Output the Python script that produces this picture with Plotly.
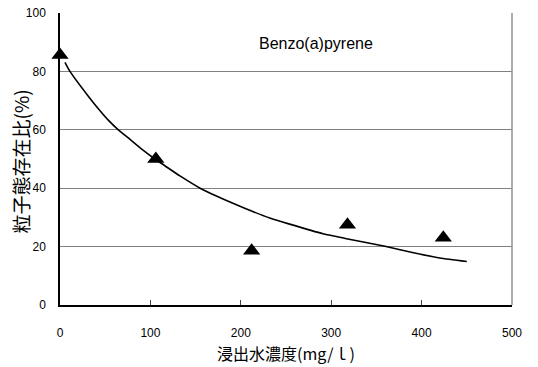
import plotly.graph_objects as go

# Measured data (triangles)
meas_x = [0, 106, 212, 318, 424]
meas_y = [85.6, 50.0, 18.6, 27.5, 23.0]

# Fitted curve
curve_x = [5.5, 11, 31.3, 42.4, 53.4, 64.5, 75.6, 90.4, 105, 116, 132.7, 155, 173, 203, 232, 254, 291, 317, 359.5, 391, 420, 450]
curve_y = [83.1, 80, 71.5, 67.2, 63.3, 60, 57.2, 53.4, 50, 47.7, 44.2, 40, 37.3, 33.3, 29.8, 27.7, 24.4, 22.7, 20.1, 17.9, 16.1, 14.9]

x_ticks = [0, 100, 200, 300, 400, 500]
y_ticks = [0, 20, 40, 60, 80, 100]

title_text = "Benzo(a)pyrene"
x_title = "浸出水濃度(mg/ｌ)"
y_title = "粒子態存在比(%)"

font_lat = "Liberation Sans, Arial, sans-serif"
font_cjk = "Noto Sans CJK JP, Liberation Sans, sans-serif"

fig = go.Figure()
fig.add_trace(go.Scatter(x=curve_x, y=curve_y, mode="lines",
                         line=dict(color="black", width=1.6, shape="spline", smoothing=0.6),
                         hoverinfo="skip"))
fig.add_trace(go.Scatter(x=meas_x, y=meas_y, mode="markers",
                         marker=dict(symbol="triangle-up", size=15, color="black"),
                         cliponaxis=False))

fig.update_layout(
    width=538, height=367,
    margin=dict(l=60, r=26, t=13, b=62),
    paper_bgcolor="white", plot_bgcolor="white",
    showlegend=False,
    xaxis=dict(range=[0, 500], tickvals=x_ticks, showgrid=False, zeroline=False,
               automargin=False,
               showline=True, linecolor="black", linewidth=1.5,
               ticks="inside", ticklen=5, tickcolor="#444", tickwidth=1,
               ticklabelstandoff=16,
               tickfont=dict(family=font_lat, size=12, color="black"),
               title=dict(text=x_title, font=dict(family=font_cjk, size=16, color="black"),
                          standoff=10)),
    yaxis=dict(range=[0, 100], tickvals=y_ticks, showgrid=True, gridcolor="#808080",
               gridwidth=1, zeroline=False, automargin=False,
               showline=True, linecolor="black", linewidth=1.5,
               ticks="", ticklabelstandoff=10,
               tickfont=dict(family=font_lat, size=12, color="black")),
    shapes=[dict(type="line", xref="paper", yref="paper", x0=1, x1=1, y0=0, y1=1,
                 line=dict(color="#909090", width=1.5))],
    annotations=[
        dict(text=title_text, x=283, y=89.5, xref="x", yref="y",
             showarrow=False, font=dict(family=font_lat, size=16, color="black")),
        dict(text=y_title, x=-0.087, y=0.49, xref="paper", yref="paper",
             textangle=-90, showarrow=False, xanchor="center", yanchor="middle",
             font=dict(family=font_cjk, size=19, color="black")),
    ],
)

fig.write_html("out.html")
